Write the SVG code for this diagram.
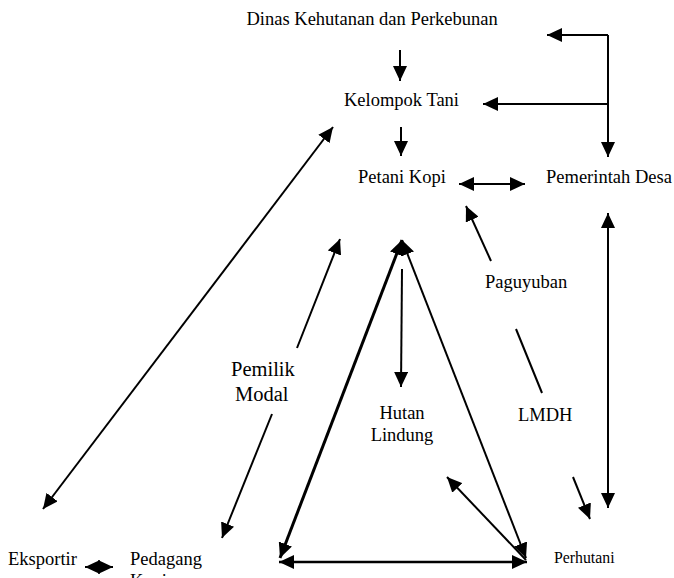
<svg xmlns="http://www.w3.org/2000/svg" width="674" height="578" viewBox="0 0 674 578">
<style>
text{font-family:"Liberation Serif","Times New Roman",serif;font-size:18.5px;fill:#000}
.c{stroke:#000;stroke-width:2;fill:none}
.e{marker-end:url(#ah)}
.b{marker-start:url(#ah);marker-end:url(#ah)}
</style>
<defs>
<marker id="ah" markerUnits="userSpaceOnUse" markerWidth="15" markerHeight="14" refX="15" refY="7" orient="auto-start-reverse" viewBox="0 0 15 14">
<path d="M0,0 L15,7 L0,14 z" fill="#000"/>
</marker>
</defs>
<rect width="674" height="578" fill="#fff"/>
<g id="connectors">
<line class="c e" x1="400" y1="50" x2="400" y2="81"/>
<path class="c" d="M608,35 L608,104"/>
<line class="c e" x1="608" y1="35" x2="547" y2="35"/>
<line class="c e" x1="608" y1="104" x2="483" y2="104"/>
<line class="c e" x1="608" y1="35" x2="608" y2="157"/>
<line class="c e" x1="401" y1="127" x2="401" y2="156"/>
<line class="c b" x1="459" y1="184" x2="525" y2="184"/>
<line class="c e" x1="491" y1="261" x2="466" y2="206"/>
<line class="c b" x1="608" y1="213" x2="608" y2="508"/>
<line class="c" x1="516" y1="329" x2="542" y2="393"/>
<line class="c e" x1="573" y1="477" x2="590" y2="519"/>
<line class="c b" x1="43" y1="509" x2="333" y2="127"/>
<line class="c e" x1="297" y1="348" x2="340" y2="239"/>
<line class="c e" x1="272" y1="414" x2="222" y2="538"/>
<line class="c b" x1="85" y1="567" x2="113" y2="567"/>
<line class="c b" style="stroke-width:3" x1="402" y1="240" x2="280" y2="558"/>
<line class="c b" x1="402" y1="240" x2="526" y2="558"/>
<line class="c b" style="stroke-width:2.5" x1="279" y1="562" x2="527" y2="562"/>
<line class="c e" x1="526" y1="560" x2="447" y2="477"/>
<line class="c e" x1="402" y1="269" x2="401" y2="387"/>
</g>
<g id="dinas"><text x="246.5" y="25">Dinas Kehutanan dan Perkebunan</text></g>
<g id="kelompok"><text x="344" y="106">Kelompok Tani</text></g>
<g id="petani"><text x="358" y="183">Petani Kopi</text></g>
<g id="pemerintah"><text x="546" y="183">Pemerintah Desa</text></g>
<g id="paguyuban"><text x="485" y="288">Paguyuban</text></g>
<g id="pemilik"><text x="231" y="376" style="font-size:20.5px">Pemilik</text><text x="235" y="401" style="font-size:20.5px">Modal</text></g>
<g id="hutan"><text x="402" y="419" text-anchor="middle">Hutan</text><text x="402" y="441" text-anchor="middle">Lindung</text></g>
<g id="lmdh"><text x="518" y="421">LMDH</text></g>
<g id="eksportir"><text x="8" y="565">Eksportir</text></g>
<g id="pedagang"><text x="130" y="565">Pedagang</text><text x="130" y="587">Kopi</text></g>
<g id="perhutani"><text x="554" y="563" style="font-size:15.8px">Perhutani</text></g>
</svg>
